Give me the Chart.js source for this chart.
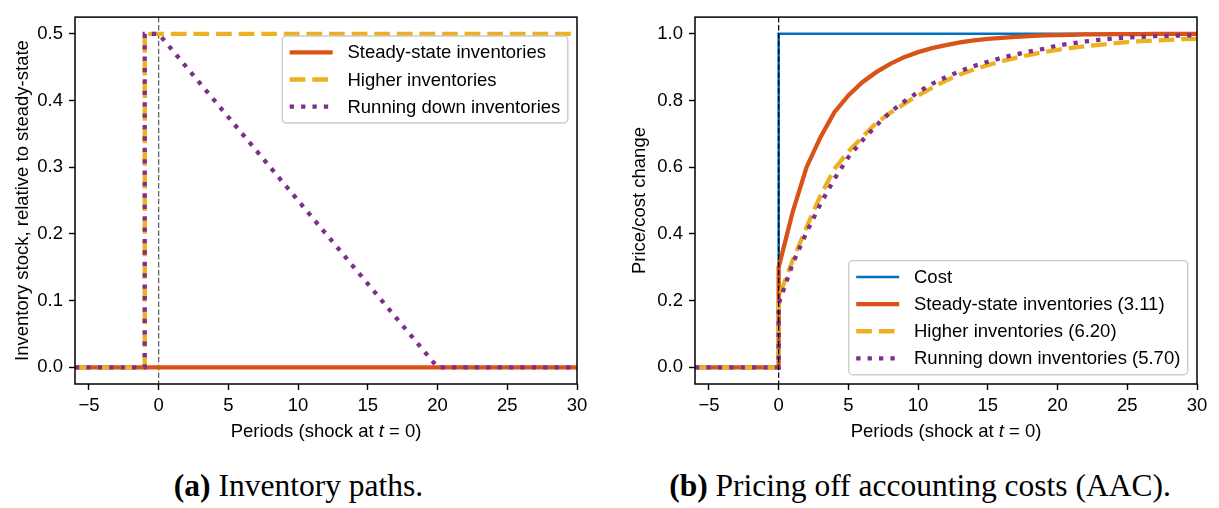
<!DOCTYPE html>
<html>
<head>
<meta charset="utf-8">
<title>Inventory paths and AAC pricing</title>
<script src="https://cdn.jsdelivr.net/npm/chart.js@4.4.0/dist/chart.umd.min.js"></script>
<style>
  body { margin: 0; background: #fff; }
  #figure { position: relative; width: 1219px; height: 508px; overflow: hidden; }
  canvas { position: absolute; top: 0; }
  #inventoryChart { left: 0; }
  #pricingChart { left: 610px; }
  .caption {
    position: absolute;
    top: 470px;
    font-family: "Liberation Serif", serif;
    font-size: 31.5px;
    line-height: 1;
    color: #000;
    text-align: center;
    white-space: nowrap;
  }
</style>
</head>
<body>
<div id="figure">
  <canvas id="inventoryChart" width="609" height="450"></canvas>
  <canvas id="pricingChart" width="609" height="450"></canvas>
  <div class="caption" style="left:0;width:597px"><b>(a)</b> Inventory paths.</div>
  <div class="caption" style="left:620px;width:600px"><b>(b)</b> Pricing off accounting costs (AAC).</div>
</div>
<script>
// periods; -1 appears twice so the jump when inventories are built is vertical
const invPeriods = [-6, -5, -4, -3, -2, -1, -1, 0, 1, 2, 3, 4, 5, 6, 7, 8, 9, 10, 11, 12, 13, 14, 15, 16, 17, 18, 19, 20, 21, 22, 23, 24, 25, 26, 27, 28, 29, 30];
const steadyInv = [0, 0, 0, 0, 0, 0, 0, 0, 0, 0, 0, 0, 0, 0, 0, 0, 0, 0, 0, 0, 0, 0, 0, 0, 0, 0, 0, 0, 0, 0, 0, 0, 0, 0, 0, 0, 0, 0];
const higherInv = [0, 0, 0, 0, 0, 0, 0.5, 0.5, 0.5, 0.5, 0.5, 0.5, 0.5, 0.5, 0.5, 0.5, 0.5, 0.5, 0.5, 0.5, 0.5, 0.5, 0.5, 0.5, 0.5, 0.5, 0.5, 0.5, 0.5, 0.5, 0.5, 0.5, 0.5, 0.5, 0.5, 0.5, 0.5, 0.5];
const runDownInv = [0, 0, 0, 0, 0, 0, 0.5, 0.5, 0.475, 0.45, 0.425, 0.4, 0.375, 0.35, 0.325, 0.3, 0.275, 0.25, 0.225, 0.2, 0.175, 0.15, 0.125, 0.1, 0.075, 0.05, 0.025, 0, 0, 0, 0, 0, 0, 0, 0, 0, 0, 0];

// periods for the price responses; 0 appears twice for the jump on impact
const pricePeriods = [-6, -5, -4, -3, -2, -1, 0, 0, 1, 2, 3, 4, 5, 6, 7, 8, 9, 10, 11, 12, 13, 14, 15, 16, 17, 18, 19, 20, 21, 22, 23, 24, 25, 26, 27, 28, 29, 30];
const costPath = [0, 0, 0, 0, 0, 0, 0, 1, 1, 1, 1, 1, 1, 1, 1, 1, 1, 1, 1, 1, 1, 1, 1, 1, 1, 1, 1, 1, 1, 1, 1, 1, 1, 1, 1, 1, 1, 1];
const steadyPrice = [0, 0, 0, 0, 0, 0, 0, 0.30, 0.465, 0.60, 0.69, 0.765, 0.815, 0.855, 0.885, 0.91, 0.93, 0.945, 0.957, 0.966, 0.974, 0.98, 0.985, 0.988, 0.991, 0.993, 0.995, 0.996, 0.997, 0.998, 0.998, 0.999, 0.999, 0.999, 1, 1, 1, 1];
const higherPrice = [0, 0, 0, 0, 0, 0, 0, 0.21, 0.32, 0.42, 0.515, 0.595, 0.647, 0.69, 0.733, 0.763, 0.79, 0.815, 0.838, 0.86, 0.878, 0.893, 0.906, 0.918, 0.928, 0.937, 0.945, 0.952, 0.958, 0.963, 0.967, 0.971, 0.975, 0.978, 0.98, 0.982, 0.984, 0.985];
const runDownPrice = [0, 0, 0, 0, 0, 0, 0, 0.19, 0.31, 0.405, 0.49, 0.565, 0.63, 0.68, 0.725, 0.765, 0.797, 0.825, 0.85, 0.87, 0.888, 0.903, 0.916, 0.928, 0.938, 0.947, 0.955, 0.965, 0.971, 0.977, 0.982, 0.986, 0.989, 0.991, 0.993, 0.994, 0.995, 0.996];

// mean pass-through lags shown in the legend
const meanLags = [3.11, 6.20, 5.70];

const xTickVals = [-5, 0, 5, 10, 15, 20, 25, 30];
const invTickVals = [0, 0.1, 0.2, 0.3, 0.4, 0.5];
const priceTickVals = [0, 0.2, 0.4, 0.6, 0.8, 1.0];
const shockPeriod = 0;

const FONT = '"Liberation Sans", Arial, sans-serif';
const FS = 18.5;
const COLORS = { cost: '#0072BD', steady: '#D95319', higher: '#EDB120', runDown: '#7E2F8E' };

Chart.defaults.color = '#000';
Chart.defaults.font.family = FONT;
Chart.defaults.font.size = FS;

function toPoints(xs, ys) {
	return xs.map((x, i) => ({ x, y: ys[i] }));
}

function lineStyle(kind) {
	switch (kind) {
		case 'cost':
			return { borderColor: COLORS.cost, borderWidth: 2.6, order: 4 };
		case 'steady':
			return { borderColor: COLORS.steady, borderWidth: 4.3, order: 3 };
		case 'higher':
			return { borderColor: COLORS.higher, borderWidth: 4.3, borderDash: [15.7, 6.9], order: 2 };
		case 'runDown':
			return { borderColor: COLORS.runDown, borderWidth: 4.3, borderDash: [4.3, 7.1], order: 1 };
	}
}

function drawShockLine(chart, opts) {
	const { ctx, chartArea } = chart;
	const x = chart.scales.x.getPixelForValue(opts.shockPeriod);
	ctx.save();
	ctx.strokeStyle = opts.shockColor;
	ctx.lineWidth = 1.2;
	ctx.setLineDash([5.5, 2.4]);
	ctx.beginPath();
	ctx.moveTo(x, chartArea.top);
	ctx.lineTo(x, chartArea.bottom);
	ctx.stroke();
	ctx.restore();
}

function drawFrame(chart) {
	const { ctx, chartArea } = chart;
	ctx.save();
	ctx.strokeStyle = '#000';
	ctx.lineWidth = 1.5;
	ctx.strokeRect(chartArea.left, chartArea.top, chartArea.right - chartArea.left, chartArea.bottom - chartArea.top);
	ctx.restore();
}

// matplotlib-style legend box inside the axes
function drawLegendBox(chart, opts) {
	const { ctx, chartArea } = chart;
	const items = chart.data.datasets.filter(d => d.label);
	ctx.save();
	ctx.font = `${FS}px ${FONT}`;
	const textW = Math.max(...items.map(d => ctx.measureText(d.label).width));
	const pad = 0.4 * FS, handle = 43, gap = 0.8 * FS, rowH = 17.9, spacing = 0.5 * FS;
	const w = pad + handle + gap + textW + pad;
	const h = 2 * pad + items.length * rowH + (items.length - 1) * spacing;
	const right = chartArea.right - 0.5 * FS;
	const top = opts.legendTop != null ? opts.legendTop : chartArea.bottom - 0.5 * FS - h;
	const left = right - w;

	ctx.beginPath();
	ctx.roundRect(left, top, w, h, 4);
	ctx.fillStyle = 'rgba(255,255,255,0.8)';
	ctx.fill();
	ctx.strokeStyle = '#cccccc';
	ctx.lineWidth = 1.4;
	ctx.stroke();

	items.forEach((d, i) => {
		const cy = top + pad + rowH / 2 + i * (rowH + spacing);
		ctx.strokeStyle = d.borderColor;
		ctx.lineWidth = d.borderWidth;
		ctx.setLineDash(d.borderDash || []);
		ctx.beginPath();
		ctx.moveTo(left + pad, cy);
		ctx.lineTo(left + pad + handle, cy);
		ctx.stroke();
		ctx.setLineDash([]);
		ctx.fillStyle = '#000';
		ctx.textBaseline = 'middle';
		ctx.textAlign = 'left';
		ctx.fillText(d.label, left + pad + handle + gap, cy + 1);
	});
	ctx.restore();
}

// x title with an italic t, like the math text in the original axis label
function drawXTitle(chart) {
	const { ctx, chartArea } = chart;
	const parts = [
		['Periods (shock at ', 'normal'],
		['t', 'italic'],
		[' = 0)', 'normal']
	];
	ctx.save();
	ctx.fillStyle = '#000';
	ctx.textBaseline = 'middle';
	ctx.textAlign = 'left';
	const widths = parts.map(([txt, style]) => {
		ctx.font = `${style} ${FS}px ${FONT}`;
		return ctx.measureText(txt).width;
	});
	const total = widths.reduce((a, b) => a + b, 0);
	let x = (chartArea.left + chartArea.right) / 2 - total / 2;
	const y = chartArea.bottom + 48;
	parts.forEach(([txt, style], i) => {
		ctx.font = `${style} ${FS}px ${FONT}`;
		ctx.fillText(txt, x, y);
		x += widths[i];
	});
	ctx.restore();
}

const decorPlugin = {
	id: 'decor',
	beforeDatasetsDraw(chart, args, opts) {
		if (!opts.shockOnTop) drawShockLine(chart, opts);
	},
	afterDatasetsDraw(chart, args, opts) {
		if (opts.shockOnTop) drawShockLine(chart, opts);
		drawFrame(chart);
		drawLegendBox(chart, opts);
		drawXTitle(chart);
	}
};

function makeChart(canvasId, cfg) {
	const ctx = document.getElementById(canvasId).getContext('2d');
	return new Chart(ctx, {
		type: 'line',
		data: { datasets: cfg.datasets },
		plugins: [decorPlugin],
		options: {
			responsive: false,
			devicePixelRatio: 1,
			animation: false,
			events: [],
			layout: { padding: { top: 3.5, right: cfg.padRight, bottom: 0, left: 0 } },
			elements: { point: { radius: 0 }, line: { tension: 0, fill: false } },
			plugins: {
				legend: { display: false },
				tooltip: { enabled: false },
				decor: {
					shockPeriod,
					shockColor: cfg.shockColor,
					shockOnTop: cfg.shockOnTop,
					legendTop: cfg.legendTop
				}
			},
			scales: {
				x: {
					type: 'linear',
					min: -6,
					max: 30,
					afterBuildTicks: scale => { scale.ticks = xTickVals.map(v => ({ value: v })); },
					afterFit: scale => { scale.height = 66; },
					ticks: {
						autoSkip: false,
						maxRotation: 0,
						padding: 5,
						callback: v => (v < 0 ? '\u2212' + Math.abs(v) : String(v))
					},
					grid: { drawOnChartArea: false, drawTicks: true, tickLength: 6, tickWidth: 1.4, tickColor: '#000' },
					border: { display: false }
				},
				y: {
					type: 'linear',
					min: cfg.yMin,
					max: cfg.yMax,
					afterBuildTicks: scale => { scale.ticks = cfg.yTicks.map(v => ({ value: v })); },
					afterFit: scale => { scale.width = cfg.axisWidth; },
					ticks: { padding: 6, callback: v => v.toFixed(1) },
					grid: { drawOnChartArea: false, drawTicks: true, tickLength: 6, tickWidth: 1.4, tickColor: '#000' },
					border: { display: false },
					title: {
						display: true,
						text: cfg.yTitle,
						font: { size: FS },
						padding: { top: cfg.yTitlePad, bottom: 0 }
					}
				}
			}
		}
	});
}

window.addEventListener('DOMContentLoaded', () => {
	makeChart('inventoryChart', {
		datasets: [
			{ label: 'Steady-state inventories', data: toPoints(invPeriods, steadyInv), ...lineStyle('steady') },
			{ label: 'Higher inventories', data: toPoints(invPeriods, higherInv), ...lineStyle('higher') },
			{ label: 'Running down inventories', data: toPoints(invPeriods, runDownInv), ...lineStyle('runDown') }
		],
		yMin: -0.025,
		yMax: 0.525,
		yTicks: invTickVals,
		yTitle: 'Inventory stock, relative to steady-state',
		yTitlePad: 12,
		axisWidth: 75,
		padRight: 32,
		shockColor: 'rgba(0,0,0,0.65)',
		shockOnTop: false,
		legendTop: 36
	});

	makeChart('pricingChart', {
		datasets: [
			{ label: 'Cost', data: toPoints(pricePeriods, costPath), ...lineStyle('cost') },
			{ label: `Steady-state inventories (${meanLags[0].toFixed(2)})`, data: toPoints(pricePeriods, steadyPrice), ...lineStyle('steady') },
			{ label: `Higher inventories (${meanLags[1].toFixed(2)})`, data: toPoints(pricePeriods, higherPrice), ...lineStyle('higher') },
			{ label: `Running down inventories (${meanLags[2].toFixed(2)})`, data: toPoints(pricePeriods, runDownPrice), ...lineStyle('runDown') }
		],
		yMin: -0.05,
		yMax: 1.05,
		yTicks: priceTickVals,
		yTitle: 'Price/cost change',
		yTitlePad: 19,
		axisWidth: 85,
		padRight: 22,
		shockColor: '#000',
		shockOnTop: true,
		legendTop: null
	});
});
</script>
</body>
</html>
